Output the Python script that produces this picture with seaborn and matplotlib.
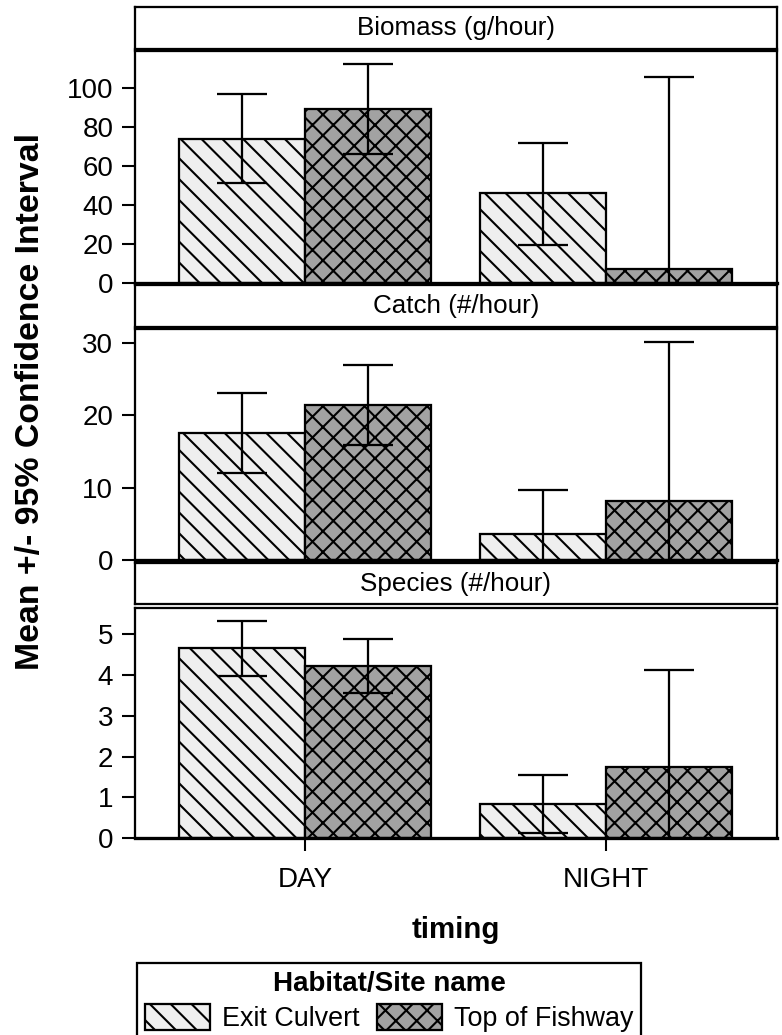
import numpy as np
import pandas as pd
import matplotlib
matplotlib.use("Agg")
import matplotlib.pyplot as plt
import seaborn as sns
from matplotlib.patches import Patch

# ---------------- data ----------------
timing = ["DAY", "NIGHT"]
sites = ["Exit Culvert", "Top of Fishway"]
measures = ["Biomass (g/hour)", "Catch (#/hour)", "Species (#/hour)"]

biomass_exit = [73.8, 45.8]
biomass_exit_lo = [51.0, 19.5]
biomass_exit_hi = [96.6, 71.8]
biomass_top = [88.9, 7.2]
biomass_top_lo = [65.8, -91.2]
biomass_top_hi = [112.0, 105.6]

catch_exit = [17.5, 3.55]
catch_exit_lo = [12.0, -2.6]
catch_exit_hi = [23.0, 9.7]
catch_top = [21.4, 8.2]
catch_top_lo = [15.8, -13.7]
catch_top_hi = [26.9, 30.1]

species_exit = [4.65, 0.83]
species_exit_lo = [3.98, 0.12]
species_exit_hi = [5.33, 1.55]
species_top = [4.22, 1.74]
species_top_lo = [3.56, -0.64]
species_top_hi = [4.88, 4.12]

ytick_sets = [[0, 20, 40, 60, 80, 100], [0, 10, 20, 30], [0, 1, 2, 3, 4, 5]]
ylims = [(0, 118.8), (0, 31.8), (0, 5.63)]

panels = [
    (biomass_exit, biomass_exit_lo, biomass_exit_hi, biomass_top, biomass_top_lo, biomass_top_hi),
    (catch_exit, catch_exit_lo, catch_exit_hi, catch_top, catch_top_lo, catch_top_hi),
    (species_exit, species_exit_lo, species_exit_hi, species_top, species_top_lo, species_top_hi),
]

colors = {"Exit Culvert": "#efefef", "Top of Fishway": "#a2a2a2"}
hatches = {"Exit Culvert": "\\\\", "Top of Fishway": "xx"}

# ---------------- style ----------------
sns.set_style("ticks")
plt.rcParams["font.family"] = ["Liberation Sans", "DejaVu Sans"]
plt.rcParams["hatch.linewidth"] = 1.2
plt.rcParams["hatch.color"] = "black"
for k in ["text.color", "axes.labelcolor", "xtick.color", "ytick.color",
          "axes.edgecolor"]:
    plt.rcParams[k] = "black"

W, H = 782, 1035
fig = plt.figure(figsize=(W / 125, H / 125), dpi=125)


def frac(x0, y0, x1, y1):
    return [x0 / W, 1 - y1 / H, (x1 - x0) / W, (y1 - y0) / H]


LEFT, RIGHT = 135, 777
header_px = [(7, 49), (285, 326.5), (563, 604)]
axes_px = [(51, 282.7), (329.5, 560), (608.3, 838.3)]

for i, (meas, vals) in enumerate(zip(measures, panels)):
    ex, ex_lo, ex_hi, tp, tp_lo, tp_hi = vals
    df = pd.DataFrame({
        "timing": timing + timing,
        "site": [sites[0]] * 2 + [sites[1]] * 2,
        "value": list(ex) + list(tp),
        "lo": list(ex_lo) + list(tp_lo),
        "hi": list(ex_hi) + list(tp_hi),
    })

    # header strip
    hax = fig.add_axes(frac(LEFT, header_px[i][0], RIGHT, header_px[i][1]))
    hax.set_xticks([]); hax.set_yticks([])
    hax.set_facecolor("white")
    for s in hax.spines.values():
        s.set_color("black"); s.set_linewidth(1.3)
    hax.text(0.5, 0.5, meas, ha="center", va="center", fontsize=15,
             color="black", transform=hax.transAxes)

    ax = fig.add_axes(frac(LEFT, axes_px[i][0], RIGHT, axes_px[i][1]))
    sns.barplot(data=df, x="timing", y="value", hue="site", order=timing,
                hue_order=sites, palette=colors, saturation=1, width=0.838,
                errorbar=None, edgecolor="black", linewidth=1.3, ax=ax,
                legend=False)
    for cont, site in zip(ax.containers, sites):
        sub = df[df["site"] == site].set_index("timing").loc[timing]
        xs = [b.get_x() + b.get_width() / 2 for b in cont]
        for b in cont:
            b.set_hatch(hatches[site])
        m = sub["value"].to_numpy()
        ax.errorbar(xs, m, yerr=[m - sub["lo"].to_numpy(), sub["hi"].to_numpy() - m],
                    fmt="none", ecolor="black", elinewidth=1.3, capsize=14.4,
                    capthick=1.3, zorder=5)

    ax.set_xlim(-0.566, 1.568)
    ax.set_ylim(*ylims[i])
    ax.set_yticks(ytick_sets[i])
    ax.set_xlabel(""); ax.set_ylabel("")
    for s in ax.spines.values():
        s.set_visible(True); s.set_color("black"); s.set_linewidth(1.3)
    ax.spines["bottom"].set_linewidth(1.9)
    ax.tick_params(axis="y", length=7.5, width=1.2, labelsize=16, pad=5,
                   color="black", labelcolor="black")
    if i < 2:
        ax.tick_params(axis="x", bottom=False, labelbottom=False)
    else:
        ax.tick_params(axis="x", length=7.5, width=1.2, labelsize=16, pad=9,
                       color="black", labelcolor="black")

fig.text(31 / W, 1 - 402 / H, "Mean +/- 95% Confidence Interval", rotation=90,
         ha="center", va="center", fontsize=19.5, fontweight="bold",
         color="black")
fig.text(456 / W, 1 - 930 / H, "timing", ha="center", va="center",
         fontsize=17, fontweight="bold", color="black")

handles = [Patch(facecolor=colors[s], edgecolor="black", hatch=hatches[s],
                 linewidth=1.3, label=s) for s in sites]
leg = fig.legend(handles=handles, loc="upper left",
                 bbox_to_anchor=(137.3 / W, 1 - 962.7 / H), ncol=2,
                 title="Habitat/Site name", fontsize=15.5, frameon=True,
                 fancybox=False, framealpha=1, handlelength=2.4,
                 handleheight=1.15, handletextpad=0.45, columnspacing=0.65,
                 borderpad=0.3, labelspacing=0.25, borderaxespad=0)
leg.get_title().set_fontweight("bold")
leg.get_title().set_fontsize(16)
leg.get_title().set_color("black")
for t in leg.get_texts():
    t.set_color("black")
leg.get_frame().set_edgecolor("black")
leg.get_frame().set_linewidth(1.3)

fig.savefig("out.png", dpi=125, facecolor="white")
